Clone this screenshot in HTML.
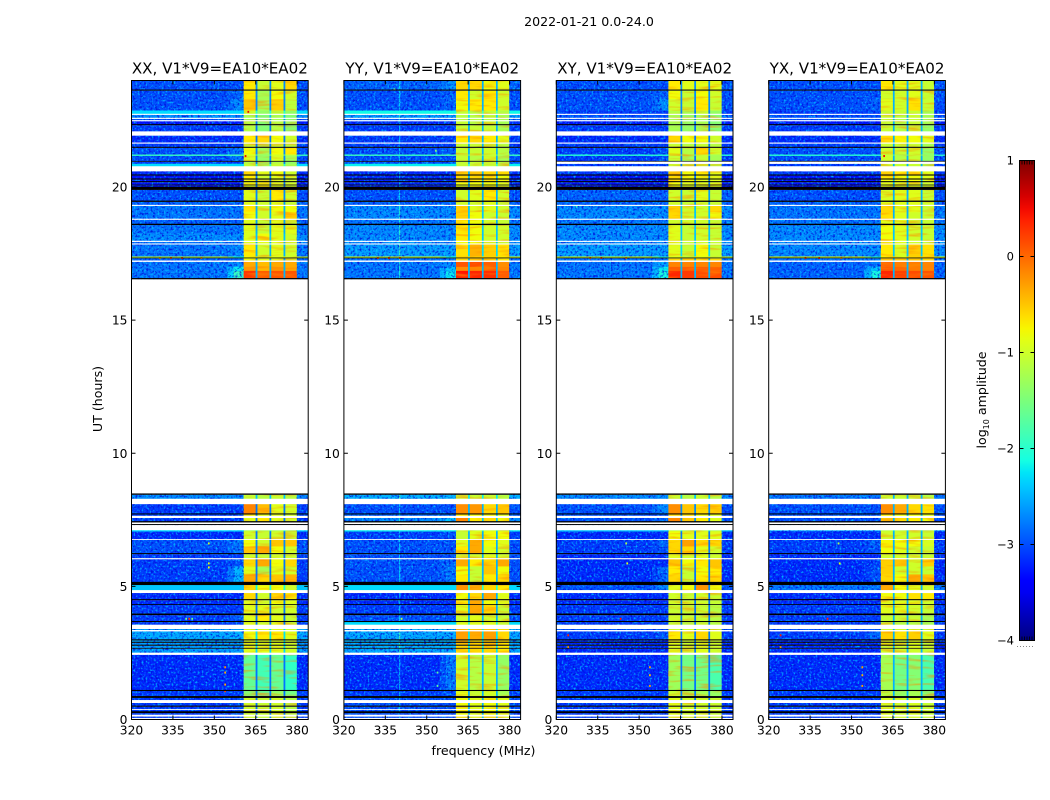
<!DOCTYPE html>
<html lang="en">
<head>
<meta charset="utf-8">
<title>2022-01-21 amplitude waterfall</title>
<style>
html,body{margin:0;padding:0;background:#fff;width:1050px;height:800px;overflow:hidden}
svg{display:block}
text{font-family:"DejaVu Sans","Liberation Sans",sans-serif;fill:#000}
.tick{font-size:12.3px}
.label{font-size:12.6px}
.ptitle{font-size:15.1px}
</style>
</head>
<body>
<svg id="figure" xmlns="http://www.w3.org/2000/svg" width="1050" height="800" viewBox="0 0 1050 800">
  <defs>
    <filter id="speckle-light" x="0" y="0" width="1" height="1" color-interpolation-filters="sRGB">
      <feTurbulence type="fractalNoise" baseFrequency="0.5" numOctaves="2" seed="3"/>
      <feColorMatrix values="0 0 0 0 0  0 0 0 0 .8  0 0 0 0 1  3.6 0 0 0 -1.8"/>
    </filter>
    <filter id="speckle-dark" x="0" y="0" width="1" height="1" color-interpolation-filters="sRGB">
      <feTurbulence type="fractalNoise" baseFrequency="0.45" numOctaves="2" seed="11"/>
      <feColorMatrix values="0 0 0 0 0  0 0 0 0 .03  0 0 0 0 .85  0 3.6 0 0 -1.75"/>
    </filter>
    <filter id="speckle-band" x="0" y="0" width="1" height="1" color-interpolation-filters="sRGB">
      <feTurbulence type="fractalNoise" baseFrequency="0.04 0.3" numOctaves="2" seed="7"/>
      <feColorMatrix values="0 0 0 0 1  0 0 0 0 .55  0 0 0 0 0  3.2 0 0 0 -1.6"/>
    </filter>
    <linearGradient id="jet-gradient" x1="0" y1="1" x2="0" y2="0"></linearGradient>
  </defs>
  <text x="589" y="26" text-anchor="middle" class="label">2022-01-21 0.0-24.0</text>
  <text transform="translate(102 399) rotate(-90)" text-anchor="middle" class="label">UT (hours)</text>
  <text x="483.5" y="755" text-anchor="middle" class="label">frequency (MHz)</text>
  <g id="panels"></g>
  <g id="colorbar"></g>
  <text transform="translate(986 400) rotate(-90)" text-anchor="middle" class="label">log<tspan font-size="8" dy="3">10</tspan><tspan dy="-3"> amplitude</tspan></text>
</svg>
<script>
// Channel band edges (MHz) and which level column each band reads.
const channelEdges = [320,354.7,357,360.6,365,365.5,370,370.5,375.1,375.6,379.9,384];
const channelColumn = ['bg','fade','bump','b1','gap','b2','gap','b3','gap','b4','bg'];
// Time row edges (UT hours), top to bottom.
const utEdges = [24,23.66,23.62,23.3,22.87,22.75,22.71,22.6,22.56,22.51,22.47,22.36,22.32,22.09,21.93,21.67,21.63,21.51,21.47,21.22,21.18,20.98,20.95,20.87,20.78,20.59,20.47,20.43,20.32,20.28,20.22,20.18,20.09,20.06,20.01,19.89,19.49,19.44,19.33,19.29,19.05,18.81,18.77,18.62,18.57,18.25,17.98,17.94,17.88,17.84,17.39,17.35,17.32,17.24,17.19,17,16.85,16.58,16.53,8.49,8.44,8.29,8.09,7.74,7.7,7.65,7.57,7.45,7.4,7.34,7.3,7.11,7.07,6.78,6.75,6.5,6.25,6.21,6.06,6.02,5.75,5.45,5.17,5.05,4.86,4.75,4.52,4.48,4.33,4.3,3.98,3.92,3.7,3.66,3.56,3.4,3.36,3.31,3.01,2.97,2.92,2.88,2.81,2.77,2.69,2.66,2.51,2.43,1.11,1.07,0.88,0.81,0.73,0.62,0.52,0.48,0.39,0.36,0.31,0.24,0.18,0.11,0.06,0];
// Rows (by their upper UT edge) that are flagged blank or zero amplitude.
const blankRowStarts = [22.75,22.6,22.51,22.09,21.67,20.78,19.33,18.81,17.98,17.88,17.24,16.53,8.29,7.65,7.4,7.3,6.78,6.06,4.86,3.56,3.36,2.51,0.73,0.39,0.18,0.06];
const zeroRowStarts = [23.66,22.36,21.51,20.98,20.47,20.32,20.22,20.09,20.01,19.49,18.62,17.35,16.58,8.49,7.74,7.45,7.34,6.25,5.17,4.52,4.33,3.98,3.7,3.01,2.92,2.81,2.69,1.11,0.88,0.52,0.31];
const panelNames = ['XX','YY','XY','YX'];
const baselineLabel = 'V1*V9=EA10*EA02';
const xTickValues = [320,335,350,365,380];
const yTickValues = [0,5,10,15,20];
const colorbarTicks = [1,0,-1,-2,-3,-4];
const tickGlyphs = ['1','0','\u22121','\u22122','\u22123','\u22124'];
const gapLevels = [-2.8,-2.5,-2.8,-2.5];
const rfiFrequency = [null,340,null,null];
// Level tables: log10 amplitude per data row as [bg, bump, b1, b2, b3, b4]; null = blank.
const xxLevels = [
[-3,-3,-.7,-1.05,-.9,-.6],[-3,-2.9,-.7,-1.25,-.8,-1],[-3,-2.7,-.5,-1.25,-.55,-1.1],[-2.3,-2.3,-1,-1.35,-1.1,-1.35],
[-2.7,-2.7,-1.25,-1.5,-1.25,-1.45],[-3,-3,-1.25,-1.5,-1.25,-1.45],[-3.3,-3.3,-1.15,-1.45,-1.15,-1.35],[-3.1,-3.1,-1.15,-1.45,-1.15,-1.45],
[-3.2,-3.2,-.7,-.6,-.8,-1],[-3.1,-3.1,-1.05,-1.25,-1.05,-1.15],[-3,-2.8,-.8,-1.25,-.8,-.7],[-1.9,-1.8,-.95,-1.35,-.95,-1.05],
[-3,-2.8,-.95,-1.35,-.95,-1.25],[-3.1,-3.1,-1.15,-1.35,-1.15,-1.35],[-2.3,-2.3,-1.05,-1.25,-1.05,-1.25],[-3.2,-3.2,-.6,-.9,-.8,-1],
[-3.3,-3.3,-.7,-1,-.9,-1],[-3.3,-3.3,-.8,-1,-.9,-1],[-3.3,-3.3,-.8,-.8,-.9,-1],[-3.3,-3.3,-.9,-.7,-.9,-1],
[-3,-3,-.9,-1.05,-.7,-1],[-2.9,-2.9,-.9,-1,-.9,-1.05],[-2.8,-2.8,-.7,-1,-.8,-.8],[-2.8,-2.8,-.8,-1,-.9,-.55],
[-2.9,-2.9,-.9,-1.05,-.9,-1.05],[-2.8,-2.8,-.9,-1.05,-.9,-.9],[-2.7,-2.7,-.9,-.8,-.9,-1],[-2.8,-2.8,-.9,-.9,-.9,-1],
[-2.8,-2.7,-.7,-1,-.9,-1],[-1.1,-2.1,-.8,-1,-.9,-1],[-2.9,-2.9,-.8,-.9,-.9,-1],[-2.8,-2.7,-.35,-.45,-.35,-.35],
[-2.8,-2.2,-.25,-.45,-.25,-.35],[-2.8,-1.9,.25,.05,.1,.1],
[-2.7,-2.7,-1.05,-1.15,-1.05,-1.15],[-3.1,-3.1,-.15,-.45,-.9,-1],[-3.1,-3.1,-.8,-.9,-.9,-1],[-3.1,-3.1,-.9,-.7,-.9,-1],
[-2.3,-2.3,-1.25,-1.25,-1.25,-1.35],[-3.2,-3.2,-1,-1.05,-1,-1.05],[-3,-2.8,-.8,-1,-.5,-.5],[-3,-2.8,-.5,-.35,-.8,-1],
[-3.1,-3.1,-1,-1.05,-1,-1.05],[-3.1,-3,-.6,-.35,-.8,-.6],[-3.1,-2.5,-.9,-1.25,-.9,-1],[-3.1,-2.5,-.35,-.6,-.5,-.4],
[-2.4,-2.4,-.6,-.8,-.8,-1],[-3.2,-3.2,-.6,-1,-.6,-.7],[-3.2,-3.2,-.9,-1,-.8,-.9],[-3.1,-3.1,-.9,-.9,-1,-1],
[-3.1,-2.9,-.9,-.7,-.9,-1.05],[-3.1,-3.1,-.9,-1,-.9,-1.05],[-2.6,-2.6,-.9,-.9,-.9,-1],[-2.55,-2.5,-.8,-.7,-.7,-.9],
[-2.6,-2.6,-.9,-.9,-.9,-1],[-2.6,-2.6,-.9,-.9,-.9,-1],[-2.6,-2.6,-.9,-.9,-.9,-1],[-2.6,-2.6,-.9,-.9,-.9,-1],
[-3.2,-3.2,-1.65,-1.85,-1.65,-1.95],[-3.1,-3.1,-1.45,-1.65,-1.35,-1.55],[-3.1,-3,-1,-1.05,-1,-1.15],[-3.1,-3,-1,-1.05,-1,-1.15],
[-3.1,-3,-1,-1.05,-1,-1.15],[-3.1,-3,-1,-1.05,-1,-1.15],[-3.1,-3,-1,-1.05,-1,-1.15],[-3.1,-3,-1,-1.05,-1,-1.15]];
const yyLevels = [
[-2.9,-2.7,-.6,-.6,-.8,-.9],[-3,-2.9,-.7,-1,-.7,-1],[-3,-2.9,-.8,-.7,-.7,-1],[-2.15,-2.15,-1.05,-1.15,-1.05,-1.15],
[-2.6,-2.6,-1.15,-1.15,-1.15,-1.25],[-2.9,-2.9,-1.15,-1.15,-1.15,-1.25],[-3.2,-3.2,-1.05,-1.15,-1.05,-1.25],[-3.1,-3.1,-1.05,-1.05,-1.05,-1.25],
[-3.1,-3.1,-.7,-.6,-.7,-.9],[-3.1,-3.1,-1.05,-1.05,-1.05,-1.15],[-3,-2.9,-1.05,-1.05,-1,-1.15],[-1.9,-1.8,-1.05,-1.05,-1.05,-1.15],
[-3,-3,-1.05,-1.15,-1,-1.25],[-3,-3,-1.05,-1.05,-1.05,-1.15],[-2.2,-2.2,-1.05,-1.05,-1.05,-1.15],[-3.2,-3.2,-.6,-.5,-.6,-.6],
[-3.2,-3.2,-.6,-.6,-.7,-.8],[-3.2,-3.2,-.7,-.7,-.7,-.8],[-3.2,-3.2,-.8,-.8,-.8,-.9],[-3.2,-3.2,-.9,-.8,-.8,-.9],
[-3,-3,-1,-.9,-.7,-1],[-2.9,-2.9,-1,-1,-.9,-1.05],[-2.7,-2.7,-.55,-.9,-.9,-1],[-2.7,-2.7,-.55,-.8,-1,-1.05],
[-2.8,-2.8,-.7,-.8,-1,-1.05],[-2.7,-2.7,-.7,-.8,-1,-1],[-2.7,-2.7,-.7,-.8,-1,-1],[-2.7,-2.7,-.8,-.8,-1,-1.05],
[-2.6,-2.6,-.65,-.4,-.55,-.65],[-1,-2,-.6,-.6,-.6,-.7],[-2.8,-2.8,-.6,-.5,-.6,-.7],[-2.8,-2.7,.1,.15,.05,-.2],
[-2.8,-2.4,-.2,-.15,.05,-.15],[-2.8,-2.2,.45,.35,.3,.05],
[-2.5,-2.5,-1.05,-1.05,-1.05,-1.15],[-3,-3,-.2,-.25,-.6,-.5],[-2.9,-2.9,-.7,-.8,-.8,-.9],[-2.7,-2.4,-.15,-.7,-.6,-.8],
[-2.2,-2.2,-1.05,-1.05,-1.05,-1.15],[-3.1,-3,-1.05,-.9,-.8,-.8],[-3,-3,-.9,-.35,-.8,-.9],[-3,-3,-.7,-.35,-.9,-1],
[-3,-3,-1,-1,-.9,-1],[-3,-2.9,-.35,-.7,-.6,-.35],[-3,-2.8,-.8,-1.05,-.5,-.8],[-3,-2.8,-.7,-1.05,-.7,-.6],
[-2.3,-2.3,-.25,-.35,-.6,-.7],[-3.2,-3.2,-.8,-.6,-.35,-.9],[-3.2,-3.2,-.7,-.35,-.8,-.9],[-3.1,-3.1,-.9,-.35,-.6,-1.05],
[-3,-3,-1,-.9,-1,-1.05],[-2.3,-2.3,-.9,-.9,-.9,-1.05],[-2.5,-2.5,-.5,-.5,-.5,-.6],[-2.55,-2.55,-.3,-.35,-.3,-.6],
[-2.5,-2.5,-.5,-.6,-.5,-.6],[-2.55,-2.55,-.5,-.6,-.5,-.7],[-2.5,-2.5,-.6,-.6,-.6,-.7],[-2.55,-2.55,-.6,-.6,-.6,-.7],
[-3.2,-2.8,-1,-1.15,-1.05,-1.35],[-3.1,-3,-.9,-1.05,-1,-1.25],[-3,-3,-.8,-.9,-.8,-.9],[-3,-3,-.8,-.9,-.8,-.9],
[-3,-3,-.8,-.9,-.8,-.9],[-3,-3,-.8,-.9,-.8,-.9],[-3,-3,-.8,-.9,-.8,-.9],[-3,-3,-.8,-.9,-.8,-.9]];
const xyLevels = [
[-3,-3,-.7,-.9,-.9,-.9],[-3,-2.9,-.8,-1.05,-.8,-1],[-3,-2.7,-1,-1.05,-.7,-1.05],[-3.1,-3.1,-1.15,-1.25,-1.05,-1.35],
[-3,-3,-1.25,-1.35,-1.25,-1.45],[-3,-3,-1.25,-1.35,-1.25,-1.45],[-3.3,-3.3,-1.25,-1.35,-1.25,-1.45],[-3.1,-3.1,-1.25,-1.35,-1.25,-1.45],
[-3.2,-3.2,-.6,-.8,-.8,-1],[-3.1,-3.1,-1.05,-1.15,-1.05,-1.15],[-3.1,-3,-.9,-1.15,-.6,-1],[-2,-2,-1.05,-1.25,-1.05,-1.25],
[-3.1,-3,-1.05,-1.25,-1.05,-1.25],null,[-3.1,-3.1,-1.05,-1.15,-1.05,-1.15],[-3.1,-3.1,-.5,-.8,-.7,-.9],
[-3.3,-3.3,-.6,-.8,-.8,-.9],[-3.3,-3.3,-.7,-.8,-.9,-.9],[-3.3,-3.3,-.8,-.9,-.9,-.9],[-3.3,-3.3,-.8,-.9,-.9,-.9],
[-2.9,-2.9,-1,-1.05,-.9,-1.05],[-2.9,-2.9,-1,-1.05,-1,-1.05],[-2.7,-2.7,-.55,-1,-1,-.6],[-2.7,-2.7,-.6,-1,-1,-.8],
[-2.8,-2.8,-1,-1,-1,-1.05],[-2.7,-2.7,-.9,-1.05,-1,-1.05],[-2.7,-2.7,-.9,-1.05,-1,-1.05],[-2.7,-2.7,-.9,-1.05,-1,-1.05],
[-2.6,-2.6,-.9,-1.05,-.8,-1.05],[-1,-2,-.9,-1.05,-.9,-1.05],[-2.8,-2.8,-.6,-.5,-.6,-.7],[-2.8,-2.6,-.15,-.15,-.15,-.15],
[-2.8,-2.2,.05,.05,.05,.05],[-2.8,-2.1,.35,.25,.15,.15],
[-2.7,-2.7,-1.05,-1.15,-1.05,-1.15],[-3,-2.7,-.2,-.5,-.6,-.55],[-3,-3,-.6,-.7,-.8,-.9],[-3,-2.9,-.15,-.5,-.7,-.9],
[-2.4,-2.4,-1.15,-1.25,-1.15,-1.25],[-3.2,-3.2,-.8,-.9,-.9,-.9],[-3.1,-2.9,-.6,-.3,-.6,-.6],[-3.1,-3,-.6,-.6,-.9,-1],
[-3.2,-3.2,-.9,-1,-.9,-1],[-3.2,-3.2,-.5,-.8,-.7,-.5],[-3.2,-2.9,-.7,-1.05,-.8,-.7],[-3.2,-2.9,-.6,-1.05,-.7,-.6],
[-3,-2.7,-.9,-.8,-.25,-.8],[-3.2,-3.2,-1,-1.05,-1,-1.05],[-3.2,-3.2,-1,-1,-1,-1.05],[-3.1,-3.1,-1.05,-1.05,-1.05,-1.15],
[-3.1,-3.1,-1,-1.05,-1.05,-1.15],[-3.1,-3.1,-1.05,-1.15,-1.05,-1.15],[-3,-3,-1,-1,-1,-1.05],[-3.1,-3,-.7,-.9,-.6,-.9],
[-3.2,-3.2,-.9,-1,-.9,-1],[-3.2,-3.2,-.9,-1,-.9,-1],[-3.2,-3.2,-.9,-1,-.9,-1],[-3.2,-3.2,-.9,-1,-.9,-1],
[-3.2,-3.2,-1.3,-1.55,-1.55,-1.8],[-3.1,-3.1,-1.05,-1.25,-1.25,-1.35],[-3.1,-3.1,-.9,-1,-1,-1.05],[-3.1,-3.1,-.9,-1,-1,-1.05],
[-3.1,-3.1,-.9,-1,-1,-1.05],[-3.1,-3.1,-.9,-1,-1,-1.05],[-3.1,-3.1,-.9,-1,-1,-1.05],[-3.1,-3.1,-.9,-1,-1,-1.05]];
const yxLevels = [
[-3,-3,-.7,-.9,-.9,-1.05],[-3,-3,-1,-1,-.9,-1.05],[-3,-2.9,-.9,-1,-.65,-1.05],[-3.1,-3.1,-1.05,-1.05,-1.05,-1.25],
[-3,-3,-1.05,-1.15,-1.05,-1.25],[-3,-3,-1.05,-1.15,-1.05,-1.25],[-3.3,-3.3,-1.05,-1.15,-1.05,-1.25],[-3.1,-3.1,-1.05,-1.15,-1.05,-1.35],
[-3.2,-3.2,-.65,-.75,-.8,-.9],[-3.1,-3.1,-1.05,-1.05,-1.05,-1.25],[-3,-3,-1,-1.05,-1,-1.35],[-2,-2,-1.05,-1.25,-1.05,-1.35],
[-3,-3,-1,-1.15,-1.05,-1.35],null,[-3.1,-3.1,-1.05,-1.05,-1.05,-1.25],[-3.1,-3.1,-.55,-.7,-.7,-.9],
[-3.3,-3.3,-.7,-.8,-.8,-.9],[-3.3,-3.3,-.8,-.8,-.8,-.9],[-3.3,-3.3,-.9,-.9,-.9,-1],[-3.3,-3.3,-.9,-.9,-.9,-1],
[-3,-3,-.95,-.9,-.9,-1.05],[-2.9,-2.9,-.9,-.9,-.9,-1],[-2.8,-2.8,-.6,-.9,-.9,-1.05],[-2.8,-2.8,-.65,-.9,-1,-1.05],
[-2.8,-2.8,-.9,-.9,-1,-1.05],[-2.7,-2.7,-.8,-.9,-1,-1.05],[-2.7,-2.7,-.8,-.9,-1,-1.05],[-2.7,-2.7,-.8,-.9,-1,-1.05],
[-2.7,-2.7,-.7,-.95,-.55,-.65],[-.9,-2,-.7,-.9,-.6,-.7],[-2.8,-2.8,-.5,-.5,-.5,-.6],[-2.9,-2.8,0,-.1,-.1,-.15],
[-2.9,-2.4,.05,0,-.1,-.15],[-2.9,-2.1,.35,.2,.15,.1],
[-2.8,-2.8,-1.05,-1.05,-1.05,-1.15],[-3,-3,-.2,-.35,-.6,-.65],[-3,-3,-.7,-.8,-.8,-.9],[-3,-3,-.5,-.6,-.7,-.8],
[-2.5,-2.5,-1.15,-1.15,-1.15,-1.25],[-3.2,-3.2,-1,-1,-1,-1.05],[-3.1,-2.9,-.75,-.8,-.8,-.95],[-3.1,-3,-.8,-.9,-1,-1.05],
[-3.2,-3.2,-1,-1,-1,-1.05],[-3.2,-3.1,-.55,-.5,-1,-.55],[-3.2,-3,-.55,-1,-1,-1.05],[-3.2,-3,-.6,-.8,-.35,-.5],
[-2.8,-2.8,-.35,-.8,-.9,-1],[-3.2,-3.2,-.8,-.8,-.65,-.7],[-3.2,-3.2,-.9,-.9,-.9,-1],[-3.1,-3.1,-.9,-.9,-1,-1.05],
[-3.1,-3.1,-1.05,-1.05,-1.05,-1.25],[-3.1,-3.1,-1.05,-1.15,-1.15,-1.25],[-3,-3,-1,-1,-1,-1.05],[-3.1,-2.9,-.55,-.65,-.55,-.9],
[-3.2,-3.2,-.9,-1,-.9,-1.05],[-3.2,-3.2,-.9,-1,-.9,-1.05],[-3.2,-3.2,-1,-1,-.9,-1.05],[-3.2,-3.2,-1,-1,-1,-1.05],
[-3.2,-3.2,-1.25,-1.55,-1.45,-1.8],[-3.1,-3.1,-1.15,-1.35,-1.25,-1.45],[-3.1,-3.1,-.95,-1,-.95,-1.05],[-3.1,-3.1,-.95,-1,-.95,-1.05],
[-3.1,-3.1,-.95,-1,-.95,-1.05],[-3.1,-3.1,-.95,-1,-.95,-1.05],[-3.1,-3.1,-.95,-1,-.95,-1.05],[-3.1,-3.1,-.95,-1,-.95,-1.05]];
// Isolated hot pixels as [MHz, UT, log10 amplitude].
const xxSpecks = [[353.6,2,-.2],[353.6,1.8,-.4],[353.6,1.35,-.4],[353.6,1.1,.2],[340.6,3.82,.3],[339.5,3.82,-1.6],[341.7,3.82,-1.6],[347.7,6.65,-1],[347.7,5.9,-.9],[347.7,5.75,-.8],[361,21.2,.5],[362,22.86,.5],[330,17.37,-.3],[334,17.37,.2],[338,17.37,.3],[345,17.37,-.3]];
const yySpecks = [[353.6,1.8,-1.7],[353.6,1.3,-1.7],[340.6,3.82,-1.2],[338,23.7,-1.5],[353,21.4,-1.5],[332,17.37,.1],[336,17.37,.3],[340,17.37,.2]];
const xySpecks = [[353.6,2,-.4],[353.6,1.7,-.5],[353.6,1.3,-.3],[343,3.82,.4],[345,6.65,-1.2],[345.4,5.9,-.9],[324,3.2,.4],[324,2.75,-.3],[327,19.3,-2],[332,17.37,.1],[336,17.37,.3],[345,17.37,-.2]];
const yxSpecks = [[353.6,2,-.3],[353.6,1.7,-.4],[353.6,1.3,-.3],[341,3.82,.4],[324,3.2,.4],[324,2.75,-.3],[345,6.65,-1.2],[345.4,5.9,-.9],[361.5,21.2,.5],[333,17.37,.2],[338,17.37,.3],[346,17.37,-.2]];
const panelLevels = [xxLevels,yyLevels,xyLevels,yxLevels];
const panelSpecks = [xxSpecks,yySpecks,xySpecks,yxSpecks];

const SVGNS = 'http://www.w3.org/2000/svg';
const PANEL_LEFT = 131.5, PANEL_STEP = 212.4, PANEL_W = 176.7, PANEL_TOP = 80.5, PANEL_H = 639;
const FREQ_MIN = 320, FREQ_MAX = 384, UT_MIN = 0, UT_MAX = 24, LEVEL_MIN = -4, LEVEL_MAX = 1;
const SMOOTH_ABOVE = -2.45;
function xScale(panel, mhz){ return PANEL_LEFT + panel*PANEL_STEP + (mhz-FREQ_MIN)/(FREQ_MAX-FREQ_MIN)*PANEL_W; }
function yScale(ut){ return PANEL_TOP + PANEL_H - (ut-UT_MIN)/(UT_MAX-UT_MIN)*PANEL_H; }
function ramp(t, pts){
  for (let i = 1; i < pts.length; i++) {
    if (t <= pts[i][0]) {
      const a = pts[i-1], b = pts[i];
      return a[1] + (b[1]-a[1])*(t-a[0])/(b[0]-a[0]);
    }
  }
  return pts[pts.length-1][1];
}
function jet(level){
  const t = Math.max(0, Math.min(1, (level-LEVEL_MIN)/(LEVEL_MAX-LEVEL_MIN)));
  const r = ramp(t, [[0,0],[.35,0],[.66,1],[.89,1],[1,.5]]);
  const g = ramp(t, [[0,0],[.125,0],[.375,1],[.64,1],[.91,0],[1,0]]);
  const b = ramp(t, [[0,.5],[.11,1],[.34,1],[.65,0],[1,0]]);
  return 'rgb('+Math.round(r*255)+','+Math.round(g*255)+','+Math.round(b*255)+')';
}
function make(tag, attrs, parent){
  const el = document.createElementNS(SVGNS, tag);
  for (const k in attrs) el.setAttribute(k, attrs[k]);
  parent.appendChild(el);
  return el;
}
function rowKind(r){
  const start = utEdges[r];
  if (blankRowStarts.includes(start)) return 'w';
  if (zeroRowStarts.includes(start)) return 'k';
  return '.';
}
function cellValue(column, row, p){
  if (column === 'gap') return Math.max(gapLevels[p], row[0]+.3);
  if (column === 'bg') return row[0];
  if (column === 'fade') return (row[0]+row[1])/2;
  if (column === 'bump') return row[1];
  return row[2 + Number(column.charAt(1)) - 1];
}
const panelsGroup = document.getElementById('panels');
panelNames.forEach(function(name, p){
  const group = make('g', {}, panelsGroup);
  
  
  const levels = panelLevels[p];
  let d = 0;
  const flagRows = [];
  const smoothRows = [];
  const bandCells = [];
  for (let r = 0; r < utEdges.length - 1; r++) {
    const top = yScale(utEdges[r]), bottom = yScale(utEdges[r+1]);
    const kind = rowKind(r);
    if (kind !== '.') { flagRows.push([top,bottom,kind]); continue; }
    const row = levels[d++];
    if (!row) { flagRows.push([top,bottom,'w']); continue; }
    for (let c = 0; c < channelColumn.length; c++) {
      const x0 = xScale(p, channelEdges[c]), x1 = xScale(p, channelEdges[c+1]);
      const cell = make('rect', {x:x0, y:top, width:x1-x0+.3, height:bottom-top+.3, fill:jet(cellValue(channelColumn[c], row, p))}, group);
      
      
      if (channelColumn[c] === 'gap') bandCells.push([x0,top,x1-x0+.3,bottom-top+.3,cellValue('gap', row, p)]);
    }
    if (rfiFrequency[p] !== null) {
      const rfi = make('rect', {x:xScale(p, rfiFrequency[p]), y:top, width:1.1, height:bottom-top+.3, fill:jet(row[0]+.7)}, group);
      
      
    }
    if (row[0] > SMOOTH_ABOVE) smoothRows.push([top,bottom,row]);
  }
  // Speckle texture over the off-band channels and streaky mottling over the band.
  const x0 = xScale(p, FREQ_MIN), xb = xScale(p, channelEdges[3]), xe = xScale(p, channelEdges[10]), x1 = xScale(p, FREQ_MAX);
  [[x0,xb],[xe,x1]].forEach(function(span){
    const light = make('rect', {x:span[0], y:PANEL_TOP, width:span[1]-span[0], height:PANEL_H, filter:'url(#speckle-light)', opacity:.8}, group);
    
    
    const dark = make('rect', {x:span[0], y:PANEL_TOP, width:span[1]-span[0], height:PANEL_H, filter:'url(#speckle-dark)', opacity:.8}, group);
    
    
  });
  const mottle = make('rect', {x:xb, y:PANEL_TOP, width:xe-xb, height:PANEL_H, filter:'url(#speckle-band)', opacity:.6}, group);
  
  
  bandCells.forEach(function(g){
    const gap = make('rect', {x:g[0], y:g[1], width:g[2], height:g[3], fill:jet(g[4])}, group);
    
    
  });
  smoothRows.forEach(function(s){
    for (let c = 0; c < channelColumn.length; c++) {
      if (channelColumn[c] !== 'bg' && channelColumn[c] !== 'fade' && channelColumn[c] !== 'bump') continue;
      const cx0 = xScale(p, channelEdges[c]), cx1 = xScale(p, channelEdges[c+1]);
      const cell = make('rect', {x:cx0, y:s[0], width:cx1-cx0+.3, height:s[1]-s[0]+.3, fill:jet(cellValue(channelColumn[c], s[2], p))}, group);
      
      
    }
  });
  panelSpecks[p].forEach(function(s){
    const speck = make('rect', {x:xScale(p, s[0]), y:yScale(s[1]), width:1.7, height:2, fill:jet(s[2])}, group);
    
    
  });
  flagRows.forEach(function(f){
    const flag = make('rect', {x:x0, y:f[0], width:x1-x0, height:f[1]-f[0], fill:f[2]==='w'?'#fff':'#000'}, group);
    
    
  });
  const frame = make('rect', {x:x0, y:PANEL_TOP, width:x1-x0, height:PANEL_H, fill:'none', stroke:'#000', 'stroke-width':1}, group);
  
  
  xTickValues.forEach(function(v){
    const x = xScale(p, v);
    const tb = make('line', {x1:x, x2:x, y1:PANEL_TOP+PANEL_H, y2:PANEL_TOP+PANEL_H-4, stroke:'#000'}, group);
    
    
    const tt = make('line', {x1:x, x2:x, y1:PANEL_TOP, y2:PANEL_TOP+4, stroke:'#000'}, group);
    
    
    const lab = make('text', {x:x, y:PANEL_TOP+PANEL_H+15, 'text-anchor':'middle', class:'tick'}, group);
    lab.textContent = String(v);
    
    
  });
  yTickValues.forEach(function(v){
    const y = yScale(v);
    const tl = make('line', {x1:x0, x2:x0+4, y1:y, y2:y, stroke:'#000'}, group);
    
    
    const tr = make('line', {x1:x1, x2:x1-4, y1:y, y2:y, stroke:'#000'}, group);
    
    
    const lab = make('text', {x:x0-4, y:y+4.5, 'text-anchor':'end', class:'tick'}, group);
    lab.textContent = String(v);
    
    
  });
  const title = make('text', {x:(x0+x1)/2, y:73.5, 'text-anchor':'middle', class:'ptitle'}, group);
  title.textContent = name + ', ' + baselineLabel;
  
  
});

// Colorbar
const CB_X = 1019.5, CB_W = 15, CB_TOP = 160.5, CB_H = 480;
function cbY(level){ return CB_TOP + CB_H - (level-LEVEL_MIN)/(LEVEL_MAX-LEVEL_MIN)*CB_H; }
const gradient = document.getElementById('jet-gradient');
for (let i = 0; i <= 40; i++) {
  make('stop', {offset:(i/40), 'stop-color':jet(LEVEL_MIN+(LEVEL_MAX-LEVEL_MIN)*i/40)}, gradient);
}
const cb = document.getElementById('colorbar');
const cbRamp = make('rect', {x:CB_X, y:CB_TOP, width:CB_W, height:CB_H, fill:'url(#jet-gradient)', stroke:'#000', 'stroke-width':1}, cb);


colorbarTicks.forEach(function(v, i){
  const y = cbY(v);
  const tl = make('line', {x1:CB_X, x2:CB_X+4, y1:y, y2:y, stroke:'#000'}, cb);
  
  
  const tr = make('line', {x1:CB_X+CB_W, x2:CB_X+CB_W-4, y1:y, y2:y, stroke:'#000'}, cb);
  
  
  const lab = make('text', {x:CB_X-5.5, y:y+4, 'text-anchor':'end', class:'tick', style:'font-size:11.5px'}, cb);
  lab.textContent = tickGlyphs[i];
  
  
});
[CB_TOP, CB_TOP+CB_H].forEach(function(edge, e){
  for (let t = 1; t < 6; t++) {
    const x = CB_X + t*CB_W/6;
    const minor = make('line', {x1:x, x2:x, y1:edge, y2:e ? edge-4 : edge+4, stroke:'#000', 'stroke-width':.8}, cb);
    
    
  }
});
const dots = make('line', {x1:1017, x2:1035, y1:646.5, y2:646.5, stroke:'#888', 'stroke-width':1, 'stroke-dasharray':'1 2'}, cb);


</script>
</body>
</html>
